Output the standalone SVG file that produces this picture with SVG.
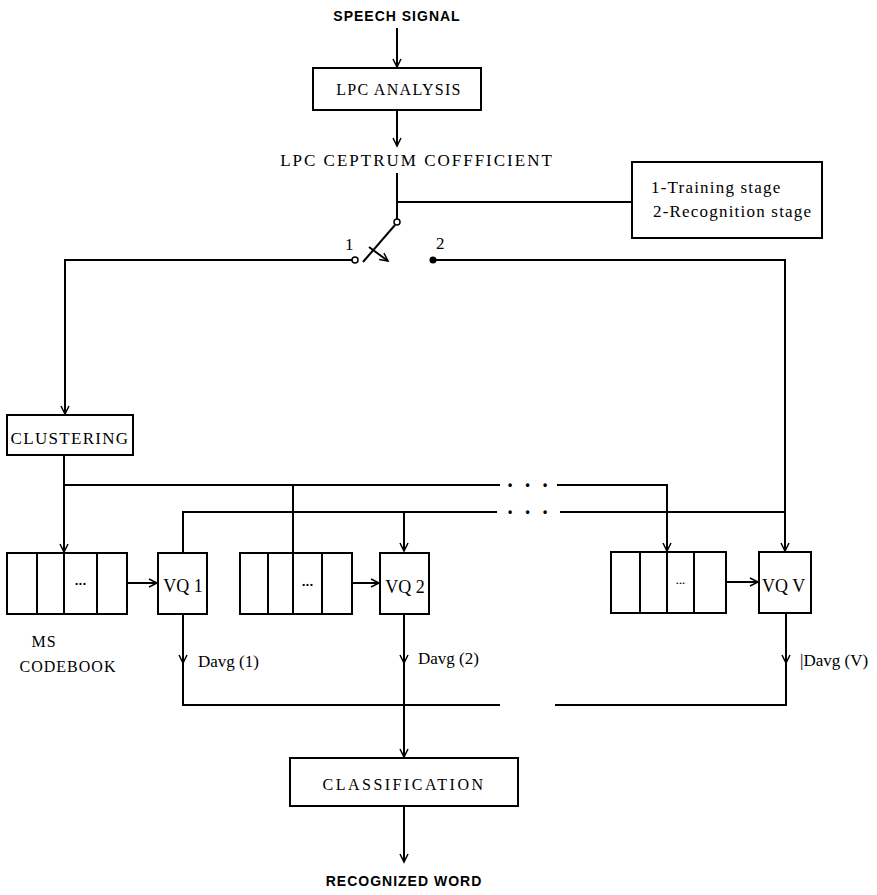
<svg xmlns="http://www.w3.org/2000/svg" width="877" height="895" viewBox="0 0 877 895">
<defs>
<marker id="arr" markerUnits="userSpaceOnUse" markerWidth="12" markerHeight="12" refX="9" refY="5" orient="auto">
<path d="M1,1 L9,5 L1,9" fill="none" stroke="#000" stroke-width="1.5"/>
</marker>
<style>
.ln{fill:none;stroke:#000;stroke-width:2}
.bx{fill:#fff;stroke:#000;stroke-width:2}
.t{font-family:"Liberation Serif","Times New Roman",serif;fill:#000}
.b{font-family:"Liberation Sans",Arial,sans-serif;font-size:14px;font-weight:bold;fill:#000;letter-spacing:1px}
.dots{font-family:"Liberation Sans",Arial,sans-serif;font-weight:bold;fill:#000}
</style>
</defs>
<rect width="877" height="895" fill="#fff"/>

<g id="connectors">
<path class="ln" d="M397,28 V67" marker-end="url(#arr)"/>
<path class="ln" d="M397,110 V146" marker-end="url(#arr)"/>
<path class="ln" d="M397,173 V219"/>
<path class="ln" d="M397,202 H632"/>
<path class="ln" d="M352,260 H65 V414" marker-end="url(#arr)"/>
<path class="ln" d="M433,260 H785 V551" marker-end="url(#arr)"/>
<path class="ln" d="M64,455 V552" marker-end="url(#arr)"/>
<path class="ln" d="M64,485 H500"/>
<path class="ln" d="M557,485 H667 V551" marker-end="url(#arr)"/>
<path class="ln" d="M293,485 V553"/>
<path class="ln" d="M183,552 V512 H497" marker-start="url(#arr)"/>
<path class="ln" d="M404,512 V551" marker-end="url(#arr)"/>
<path class="ln" d="M560,512 H785"/>
<path class="ln" d="M127,583 H157" marker-end="url(#arr)"/>
<path class="ln" d="M352,583 H379" marker-end="url(#arr)"/>
<path class="ln" d="M726,582 H758" marker-end="url(#arr)"/>
<path class="ln" d="M183,614 V663" marker-end="url(#arr)"/>
<path class="ln" d="M183,660 V705 H500"/>
<path class="ln" d="M404,614 V663" marker-end="url(#arr)"/>
<path class="ln" d="M404,660 V757" marker-end="url(#arr)"/>
<path class="ln" d="M786,614 V663" marker-end="url(#arr)"/>
<path class="ln" d="M786,660 V705 H555"/>
<path class="ln" d="M404,806 V862" marker-end="url(#arr)"/>
<text class="dots" x="508" y="489" style="font-size:12px;letter-spacing:5px">• • •</text>
<text class="dots" x="508" y="516" style="font-size:12px;letter-spacing:5px">• • •</text>
</g>

<g id="switch">
<circle cx="397" cy="222" r="3" fill="#fff" stroke="#000" stroke-width="1.5"/>
<path class="ln" d="M395,225 L363,262"/>
<path class="ln" d="M369,247 L388,261" marker-end="url(#arr)"/>
<circle cx="355" cy="260" r="3" fill="#fff" stroke="#000" stroke-width="1.5"/>
<circle cx="433" cy="260" r="3.5" fill="#000"/>
<text class="t" x="345" y="250" style="font-size:17px">1</text>
<text class="t" x="436" y="249" style="font-size:17px">2</text>
</g>

<g id="speech-signal"><text class="b" x="397" y="21" text-anchor="middle">SPEECH SIGNAL</text></g>
<g id="lpc-analysis">
<rect class="bx" x="313" y="68" width="168" height="42"/>
<text class="t" x="399" y="95" text-anchor="middle" style="font-size:16px;letter-spacing:1.3px">LPC ANALYSIS</text>
</g>
<g id="lpc-ceptrum"><text class="t" x="417" y="166" text-anchor="middle" style="font-size:17px;letter-spacing:2px">LPC CEPTRUM COFFFICIENT</text></g>
<g id="stage-box">
<rect class="bx" x="632" y="162" width="190" height="76"/>
<text class="t" x="651" y="193" style="font-size:17px;letter-spacing:1.2px">1-Training stage</text>
<text class="t" x="653" y="217" style="font-size:17px;letter-spacing:1.2px">2-Recognition stage</text>
</g>
<g id="clustering">
<rect class="bx" x="7" y="415" width="126" height="40"/>
<text class="t" x="70" y="444" text-anchor="middle" style="font-size:17px;letter-spacing:1.3px">CLUSTERING</text>
</g>
<g id="codebook1">
<rect class="bx" x="7" y="553" width="120" height="61"/>
<path class="ln" d="M37,553 V614 M64,553 V614 M97,553 V614"/>
<text class="dots" x="81" y="586" text-anchor="middle" style="font-size:8px;letter-spacing:1px">•••</text>
</g>
<g id="vq1">
<rect class="bx" x="158" y="553" width="49" height="61"/>
<text class="t" x="183" y="592" text-anchor="middle" style="font-size:18px">VQ 1</text>
</g>
<g id="codebook2">
<rect class="bx" x="240" y="553" width="112" height="61"/>
<path class="ln" d="M268,553 V614 M293,553 V614 M322,553 V614"/>
<text class="dots" x="308" y="587" text-anchor="middle" style="font-size:8px;letter-spacing:1px">•••</text>
</g>
<g id="vq2">
<rect class="bx" x="380" y="553" width="49" height="61"/>
<text class="t" x="405" y="593" text-anchor="middle" style="font-size:18px">VQ 2</text>
</g>
<g id="codebookV">
<rect class="bx" x="611" y="552" width="115" height="61"/>
<path class="ln" d="M640,552 V613 M667,552 V613 M694,552 V613"/>
<text class="dots" x="681" y="585" text-anchor="middle" style="font-size:6px;letter-spacing:1px">•••</text>
</g>
<g id="vqV">
<rect class="bx" x="759" y="552" width="52" height="61"/>
<text class="t" x="762" y="592" style="font-size:18px">VQ  V</text>
</g>
<g id="labels">
<text class="t" x="44" y="647" text-anchor="middle" style="font-size:16px;letter-spacing:1px">MS</text>
<text class="t" x="68" y="672" text-anchor="middle" style="font-size:16px;letter-spacing:1px">CODEBOOK</text>
<text class="t" x="198" y="667" style="font-size:17px">Davg (1)</text>
<text class="t" x="418" y="664" style="font-size:17px">Davg (2)</text>
<text class="t" x="800" y="666" style="font-size:17px">|Davg (V)</text>
</g>
<g id="classification">
<rect class="bx" x="290" y="758" width="228" height="48"/>
<text class="t" x="404" y="790" text-anchor="middle" style="font-size:16px;letter-spacing:2.5px">CLASSIFICATION</text>
</g>
<g id="recognized-word"><text class="b" x="404" y="886" text-anchor="middle">RECOGNIZED WORD</text></g>
</svg>
